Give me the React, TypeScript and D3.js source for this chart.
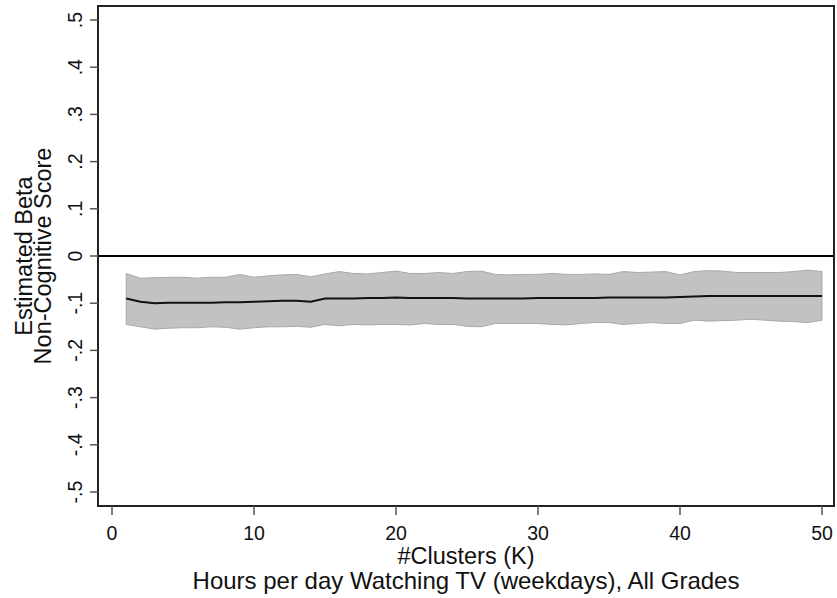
import React from "react";
import * as d3 from "d3";

const clusters = d3.range(1, 51);
const beta = [
  -0.090, -0.097, -0.100, -0.099, -0.099, -0.099, -0.099, -0.098, -0.098, -0.097,
  -0.096, -0.095, -0.095, -0.097, -0.090, -0.090, -0.090, -0.089, -0.089, -0.088,
  -0.089, -0.089, -0.089, -0.089, -0.090, -0.090, -0.090, -0.090, -0.090, -0.089,
  -0.089, -0.089, -0.089, -0.089, -0.088, -0.088, -0.088, -0.088, -0.088, -0.087,
  -0.086, -0.085, -0.085, -0.085, -0.085, -0.085, -0.085, -0.085, -0.085, -0.085,
];
const upper = [
  -0.037, -0.047, -0.046, -0.045, -0.045, -0.047, -0.045, -0.045, -0.039, -0.045,
  -0.042, -0.040, -0.039, -0.044, -0.038, -0.033, -0.037, -0.038, -0.035, -0.032,
  -0.037, -0.037, -0.035, -0.037, -0.033, -0.032, -0.039, -0.040, -0.039, -0.039,
  -0.037, -0.039, -0.039, -0.038, -0.039, -0.033, -0.035, -0.034, -0.033, -0.040,
  -0.033, -0.031, -0.032, -0.035, -0.035, -0.035, -0.035, -0.033, -0.030, -0.033,
];
const lower = [
  -0.145, -0.150, -0.155, -0.153, -0.152, -0.152, -0.150, -0.151, -0.155, -0.152,
  -0.150, -0.150, -0.149, -0.151, -0.145, -0.148, -0.145, -0.146, -0.145, -0.145,
  -0.146, -0.143, -0.145, -0.145, -0.149, -0.150, -0.143, -0.143, -0.143, -0.143,
  -0.145, -0.146, -0.143, -0.141, -0.141, -0.145, -0.143, -0.141, -0.143, -0.143,
  -0.136, -0.138, -0.137, -0.136, -0.134, -0.136, -0.138, -0.139, -0.141, -0.136,
];
const xTicks = [0, 10, 20, 30, 40, 50];
const yTicks = [-0.5, -0.4, -0.3, -0.2, -0.1, 0, 0.1, 0.2, 0.3, 0.4, 0.5];
const yTickLabels = ["-.5", "-.4", "-.3", "-.2", "-.1", "0", ".1", ".2", ".3", ".4", ".5"];

const W = 837;
const H = 598;
const plotLeft = 98;
const plotRight = 834;
const plotTop = 6;
const plotBottom = 506;
const FONT = "Arial, 'Liberation Sans', Helvetica, sans-serif";

export default function App() {
  const x = d3.scaleLinear().domain([0, 50]).range([112, 822]);
  const y = d3.scaleLinear().domain([-0.5, 0.5]).range([492, 20]);

  const data = clusters.map((k, i) => ({ k, b: beta[i], lo: lower[i], hi: upper[i] }));
  const area = d3
    .area<any>()
    .x((d) => x(d.k))
    .y0((d) => y(d.lo))
    .y1((d) => y(d.hi));
  const line = d3
    .line<any>()
    .x((d) => x(d.k))
    .y((d) => y(d.b));

  const cy = (plotTop + plotBottom) / 2;

  return (
    <svg
      width={W}
      height={H}
      style={{ position: "absolute", left: 0, top: 0, background: "#fff" }}
      fontFamily={FONT}
    >
      <rect x={0} y={0} width={W} height={H} fill="#fff" />
      {/* band */}
      <path d={area(data) || ""} fill="#c2c2c2" stroke="#a9a9a9" strokeWidth={1} />
      <path d={line(data) || ""} fill="none" stroke="#111" strokeWidth={2} />
      {/* zero line */}
      <line x1={plotLeft} x2={plotRight} y1={y(0)} y2={y(0)} stroke="#000" strokeWidth={2} />
      {/* frame */}
      <rect
        x={plotLeft}
        y={plotTop}
        width={plotRight - plotLeft}
        height={plotBottom - plotTop}
        fill="none"
        stroke="#222"
        strokeWidth={2}
      />
      {/* y ticks */}
      {yTicks.map((t, i) => (
        <g key={"y" + i}>
          <line x1={plotLeft - 8} x2={plotLeft} y1={y(t)} y2={y(t)} stroke="#555" strokeWidth={1.5} />
          <text
            transform={`translate(82,${y(t)}) rotate(-90)`}
            textAnchor="middle"
            fontSize={19.5}
            fill="#111"
          >
            {yTickLabels[i]}
          </text>
        </g>
      ))}
      {/* x ticks */}
      {xTicks.map((t) => (
        <g key={"x" + t}>
          <line x1={x(t)} x2={x(t)} y1={plotBottom} y2={plotBottom + 9} stroke="#555" strokeWidth={1.5} />
          <text x={x(t)} y={540} textAnchor="middle" fontSize={19.5} fill="#111">
            {t}
          </text>
        </g>
      ))}
      {/* y title */}
      <text transform={`translate(32,${cy}) rotate(-90)`} textAnchor="middle" fontSize={23.5} fill="#111">
        Estimated Beta
      </text>
      <text transform={`translate(51,${cy}) rotate(-90)`} textAnchor="middle" fontSize={23.5} fill="#111">
        Non-Cognitive Score
      </text>
      {/* x titles */}
      <text x={(plotLeft + plotRight) / 2} y={564} textAnchor="middle" fontSize={23.5} fill="#111">
        #Clusters (K)
      </text>
      <text x={(plotLeft + plotRight) / 2} y={589} textAnchor="middle" fontSize={24} fill="#111">
        Hours per day Watching TV (weekdays), All Grades
      </text>
    </svg>
  );
}
